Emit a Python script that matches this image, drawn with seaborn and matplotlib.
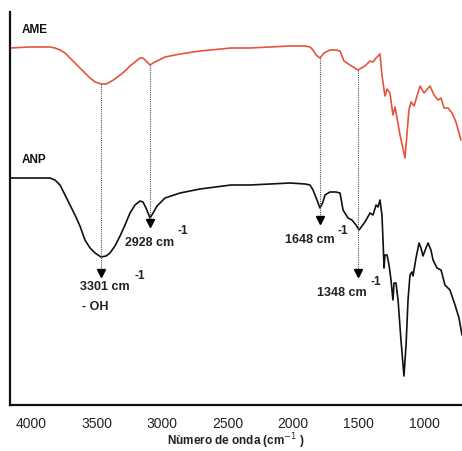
import matplotlib
matplotlib.use("Agg")
import matplotlib.pyplot as plt
import seaborn as sns
import pandas as pd

# ---- data (wavenumber in cm-1, transmittance in arbitrary units, offset) ----
ame_wn = [4160, 4007, 3855, 3817, 3778, 3740, 3702, 3664, 3626, 3588, 3549, 3511, 3465,
          3427, 3397, 3359, 3320, 3282, 3244, 3206, 3168, 3145, 3122, 3091, 3068, 3038,
          2977, 2862, 2710, 2473, 2328, 2175, 2023, 1908, 1870, 1847, 1824,
          1794, 1763, 1718, 1672, 1641, 1611, 1565, 1504, 1451, 1412, 1389, 1366, 1336, 1321,
          1298, 1282, 1260, 1237, 1221, 1206, 1183, 1145, 1115, 1099, 1076, 1030, 1000,
          954, 924, 893, 870, 847, 817, 786, 756, 718]
ame_t = [357, 358, 358, 357, 355, 352, 347, 342, 337, 332, 327, 323, 321,
         321, 323, 326, 330, 334, 339, 343, 347, 347, 344, 340, 342, 344,
         348, 351, 354, 357, 357, 358, 359, 359, 358, 355, 350,
         347, 352, 355, 355, 354, 344, 340, 335, 339, 344, 343, 347, 351, 330,
         309, 316, 312, 290, 298, 287, 270, 247, 295, 303, 299, 319, 312,
         319, 310, 305, 307, 297, 297, 292, 283, 265]

anp_wn = [4160, 4007, 3855, 3817, 3778, 3740, 3702, 3664, 3626, 3588, 3549, 3511, 3465,
          3427, 3397, 3359, 3320, 3282, 3244, 3206, 3168, 3145, 3122, 3091, 3068, 3038,
          2977, 2862, 2710, 2473, 2328, 2175, 2023,
          1908, 1870, 1847, 1817, 1794, 1771, 1756, 1718, 1672, 1641, 1618, 1580, 1550, 1519, 1496,
          1451, 1412, 1389, 1366, 1351, 1336, 1321, 1313, 1305, 1298, 1282, 1267, 1252,
          1237, 1229, 1214, 1198, 1176, 1153, 1137, 1122, 1107, 1092, 1084, 1061, 1038,
          1023, 1008, 985, 969, 947, 931, 901, 870, 840, 802, 763, 733, 710]
anp_t = [227, 227, 227, 225, 220, 210, 200, 190, 179, 165, 157, 152, 148,
         149, 152, 159, 169, 180, 192, 200, 204, 203, 197, 187, 192, 199,
         207, 212, 216, 220, 220, 221, 222,
         221, 220, 215, 205, 197, 203, 210, 213, 213, 212, 195, 187, 185, 180, 175,
         183, 192, 190, 200, 198, 205, 190, 165, 137, 150, 150, 140, 125,
         105, 122, 122, 105, 65, 29, 60, 105, 130, 133, 129, 147, 162,
         157, 149, 157, 162, 155, 145, 137, 135, 120, 115, 100, 87, 70]

peak_pos = [3465, 3091, 1794, 1504]
peak_labels = ["3301 cm", "2928 cm", "1648 cm", "1348 cm"]
tick_vals = [4000, 3500, 3000, 2500, 2000, 1500, 1000]

# ---- figure ----
sns.set_style("white")
plt.rcParams['font.family'] = ['Liberation Sans', 'DejaVu Sans']

fig = plt.figure(figsize=(4.62, 4.51), dpi=100)
ax = fig.add_axes([10/462, 46/451, 452/462, 393/451])

df = pd.concat([
    pd.DataFrame({"wn": ame_wn, "t": ame_t, "s": "AME"}),
    pd.DataFrame({"wn": anp_wn, "t": anp_t, "s": "ANP"}),
])
sns.lineplot(data=df, x="wn", y="t", hue="s", palette={"AME": "#e5533d", "ANP": "#111111"},
             sort=False, estimator=None, linewidth=1.2, legend=False, ax=ax)

ax.set_xlim(4160, 710)
ax.set_ylim(0, 393)

# dotted guide lines with arrows
tops = [321, 340, 347, 335]
tips = [128, 178, 181, 128]
for x, t0, t1 in zip(peak_pos, tops, tips):
    ax.plot([x, x], [t0, t1 + 4], linestyle=(0, (1, 1)), color="#555555", linewidth=0.8)
    ax.plot([x], [t1 + 4], marker="v", markersize=5.5, color="black", linestyle="none")

# labels
lab_style = dict(fontsize=9, fontweight="bold", color="#222222", va="center", ha="left")
sup_style = dict(fontsize=8.5, fontweight="bold", color="#222222", va="center", ha="left")
lab_xy = [(3626, 118), (3282, 162), (2061, 165), (1817, 112)]
sup_xy = [(3213, 129), (2878, 174), (1664, 174), (1412, 123)]
for (lx, ly), (sx, sy), txt in zip(lab_xy, sup_xy, peak_labels):
    ax.text(lx, ly, txt, **lab_style)
    ax.text(sx, sy, "-1", **sup_style)
ax.text(3610, 98, "- OH", **lab_style)

ax.text(4068, 375, "AME", fontsize=8.5, fontweight="bold", color="#111111", va="center", ha="left")
ax.text(4068, 245, "ANP", fontsize=8.5, fontweight="bold", color="#111111", va="center", ha="left")

ax.set_xticks(tick_vals)
ax.set_xticklabels([str(v) for v in tick_vals])
ax.set_yticks([])
ax.tick_params(axis="x", length=0, pad=9, labelsize=10, labelcolor="#222222")
ax.set_xlabel("Nùmero de onda (cm$^{-1}$ )", fontsize=8.5, fontweight="bold", labelpad=0, color="#222222")
ax.set_ylabel("")

for side in ["top", "right"]:
    ax.spines[side].set_visible(False)
for side in ["left", "bottom"]:
    ax.spines[side].set_color("#111111")
    ax.spines[side].set_linewidth(1.6)

fig.savefig("out.png", dpi=100)
